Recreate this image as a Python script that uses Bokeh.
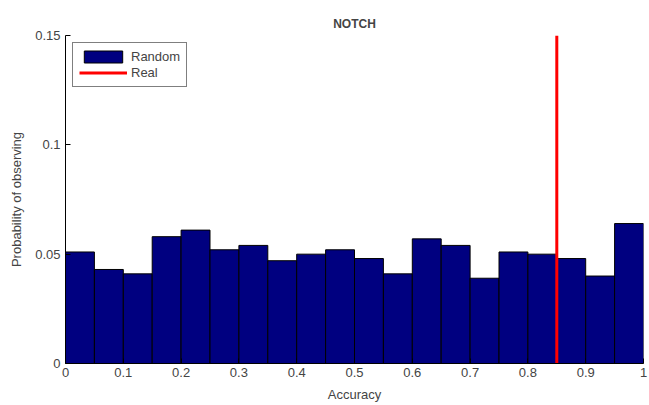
from bokeh.plotting import figure
from bokeh.models import FixedTicker, Range1d, Legend, LegendItem, ColumnDataSource
from bokeh.embed import file_html
from bokeh.resources import INLINE

title = "NOTCH"
bin_left = [0.00, 0.05, 0.10, 0.15, 0.20, 0.25, 0.30, 0.35, 0.40, 0.45,
            0.50, 0.55, 0.60, 0.65, 0.70, 0.75, 0.80, 0.85, 0.90, 0.95]
bin_width = 0.05
random_prob = [0.051, 0.043, 0.041, 0.058, 0.061, 0.052, 0.054, 0.047, 0.050, 0.052,
               0.048, 0.041, 0.057, 0.054, 0.039, 0.051, 0.050, 0.048, 0.040, 0.064]
real_accuracy = 0.85
x_ticks = [0, 0.1, 0.2, 0.3, 0.4, 0.5, 0.6, 0.7, 0.8, 0.9, 1.0]
x_tick_labels = ["0", "0.1", "0.2", "0.3", "0.4", "0.5", "0.6", "0.7", "0.8", "0.9", "1"]
y_ticks = [0, 0.05, 0.1, 0.15]
y_tick_labels = ["0", "0.05", "0.1", "0.15"]
x_limits = (0, 1)
y_limits = (0, 0.15)

FONT = "Liberation Sans"

p = figure(width=649, height=405, output_backend="svg", toolbar_location=None,
           x_range=Range1d(*x_limits), y_range=Range1d(*y_limits),
           min_border_left=65, min_border_right=6, min_border_top=35, min_border_bottom=42)
p.title.text = title
p.title.align = "center"
p.title.vertical_align = "top"
p.title.text_font = FONT
p.title.text_font_size = "12px"
p.title.text_font_style = "bold"
p.title.standoff = 6

src = ColumnDataSource(dict(left=bin_left,
                            right=[b + bin_width for b in bin_left],
                            top=random_prob,
                            bottom=[0] * len(bin_left)))
bars = p.quad(left="left", right="right", top="top", bottom="bottom", source=src,
              fill_color="#000080", line_color="black", line_width=1)
real = p.line(x=[real_accuracy, real_accuracy], y=list(y_limits), line_color="#ff0000", line_width=3)

p.grid.visible = False
p.outline_line_color = None
p.background_fill_color = "white"
p.border_fill_color = "white"

for ax, ticks, labels in ((p.xaxis[0], x_ticks, x_tick_labels), (p.yaxis[0], y_ticks, y_tick_labels)):
    ax.ticker = FixedTicker(ticks=ticks)
    ax.major_label_overrides = {t: l for t, l in zip(ticks, labels)}
    ax.major_tick_in = 5
    ax.major_tick_out = 0
    ax.minor_tick_line_color = None
    ax.axis_line_color = "black"
    ax.major_tick_line_color = "black"
    ax.major_label_text_font = FONT
    ax.major_label_text_font_size = "13px"
    ax.major_label_text_color = "#444444"
    ax.axis_label_text_font = FONT
    ax.axis_label_text_font_size = "13px"
    ax.axis_label_text_font_style = "normal"
    ax.axis_label_text_color = "#444444"

p.xaxis.axis_label = "Accuracy"
p.yaxis.axis_label = "Probability of observing"
p.xaxis.axis_label_standoff = 7
p.yaxis.axis_label_standoff = 8
p.xaxis.major_label_standoff = 4
p.yaxis.major_label_standoff = 5

legend = Legend(items=[LegendItem(label="Random", renderers=[bars]),
                       LegendItem(label="Real", renderers=[real])],
                location="top_left", label_text_font=FONT, label_text_font_size="13px",
                border_line_color="black", border_line_width=1, padding=6, spacing=1,
                margin=7, glyph_width=48, glyph_height=15, label_height=15,
                label_standoff=4)
p.add_layout(legend)

open("out.html", "w").write(file_html(p, INLINE))
